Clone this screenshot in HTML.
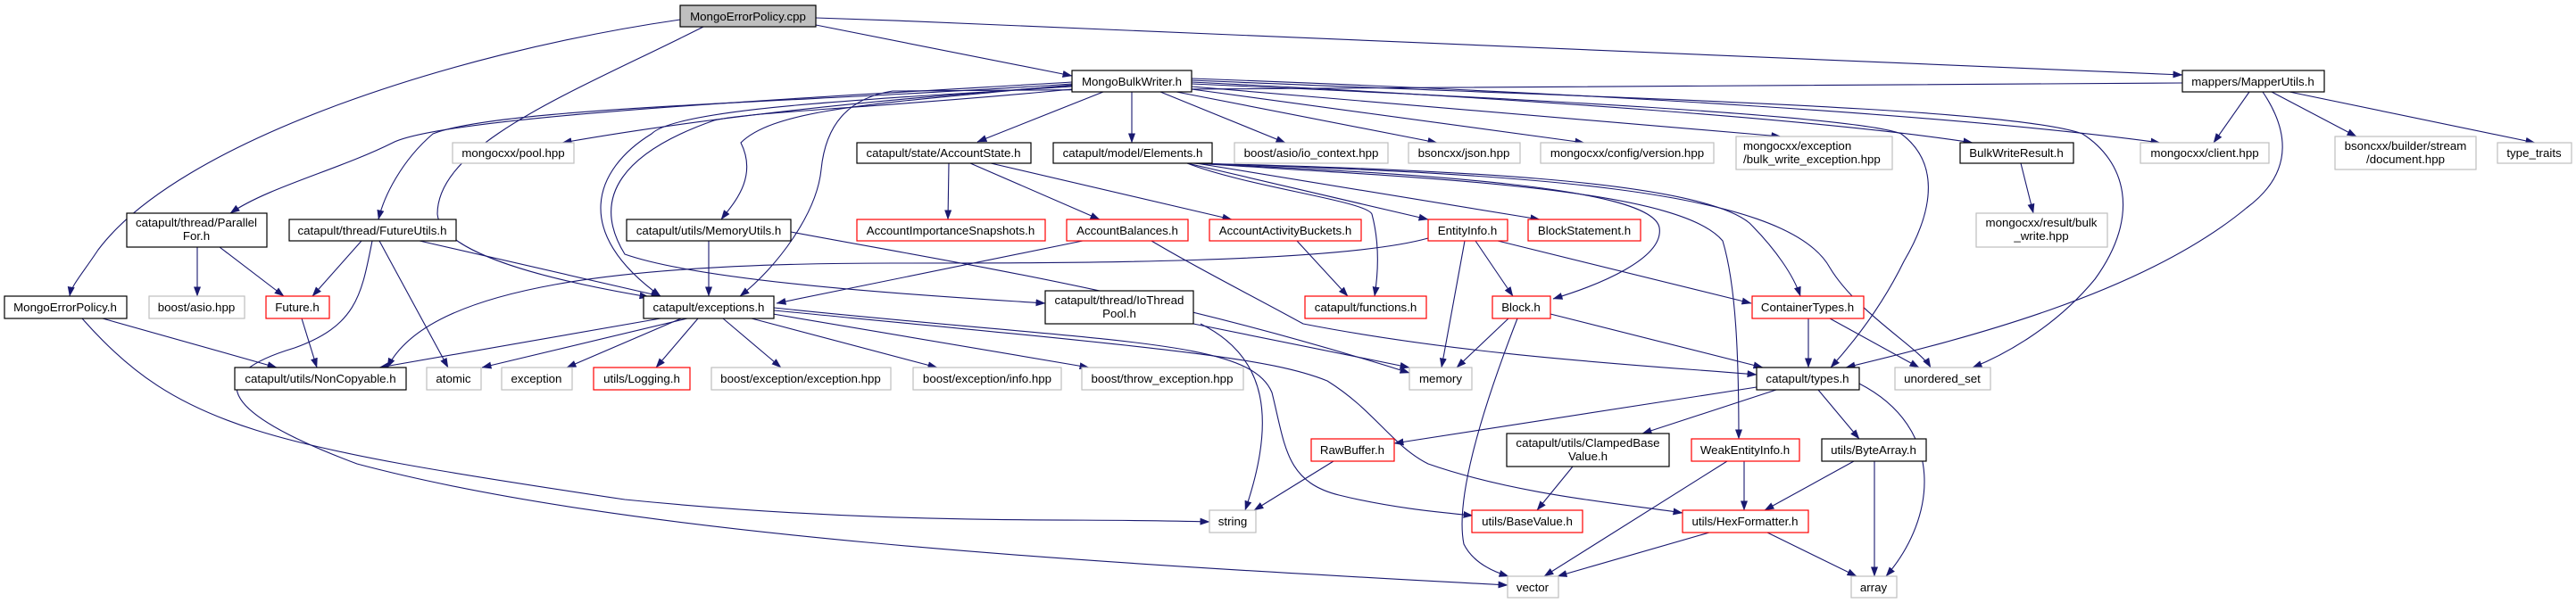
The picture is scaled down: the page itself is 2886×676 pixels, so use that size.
<!DOCTYPE html>
<html><head><meta charset="utf-8"><style>
html,body{margin:0;padding:0;background:#fff;}
svg{display:block;}
text{font-family:"Liberation Sans",Helvetica,Arial,sans-serif;font-size:13.3px;fill:#000;}
.n{fill:#fff;stroke:#000;stroke-width:1.2;}
.g{fill:#fff;stroke:#bfbfbf;stroke-width:1.2;}
.r{fill:#fff;stroke:#ff0000;stroke-width:1.2;}
.e{fill:none;stroke:#191970;stroke-width:1.1;marker-end:url(#a);}
</style></head><body>
<svg width="2886" height="676" viewBox="0 0 2886 676" xmlns="http://www.w3.org/2000/svg">
<defs><marker id="a" markerUnits="userSpaceOnUse" markerWidth="11" markerHeight="8" refX="10.5" refY="4" orient="auto"><path d="M0,0 L11,4 L0,8 z" fill="#191970"/></marker></defs>

<g>
<path class="e" d="M914,28 L1201,85"/>
<path class="e" d="M914,20 C1500,40 2100,65 2445,84"/>
<path class="e" d="M762,22 C500,60 200,160 110,280 C90,310 80,320 78,332"/>
<path class="e" d="M788,30 C650,100 490,160 490,240 C495,290 650,320 727,333"/>
<path class="e" d="M1201,96 C1000,110 800,130 630,160"/>
<path class="e" d="M1201,92 C900,110 500,130 440,160 C380,190 300,210 258,239"/>
<path class="e" d="M1201,94 C900,115 560,120 485,150 C450,180 430,220 424,246"/>
<path class="e" d="M1201,97 C1000,110 760,120 730,150 C665,190 640,260 740,332"/>
<path class="e" d="M2445,93 C1800,96 1200,98 1000,102 C950,110 925,140 920,190 C915,240 870,300 829,332"/>
<path class="e" d="M1201,95 C1000,115 870,120 830,160 C850,200 820,230 808,246"/>
<path class="e" d="M1201,100 C1000,120 840,125 800,135 C700,170 660,220 700,285 C800,320 1100,335 1171,340"/>
<path class="e" d="M1236,103 L1095,159"/>
<path class="e" d="M1268,103 L1268,160"/>
<path class="e" d="M1300,103 L1440,160"/>
<path class="e" d="M1318,103 L1610,160"/>
<path class="e" d="M1335,100 L1775,160"/>
<path class="e" d="M1335,97 L1995,153"/>
<path class="e" d="M1335,92 C1700,110 2050,135 2210,160"/>
<path class="e" d="M1335,88 C1800,105 2200,130 2420,160"/>
<path class="e" d="M1335,94 C1700,110 2080,130 2130,150 C2170,180 2170,230 2133,293 C2110,340 2080,380 2051,412"/>
<path class="e" d="M1335,90 C1800,110 2250,120 2333,150 C2380,180 2400,240 2347,313 C2300,370 2240,400 2210,412"/>
<path class="e" d="M2520,103 L2480,160"/>
<path class="e" d="M2545,103 L2640,153"/>
<path class="e" d="M2565,103 L2840,160"/>
<path class="e" d="M2535,103 C2560,140 2575,190 2517,233 C2400,330 2200,380 2068,412"/>
<path class="e" d="M2264,183 L2278,239"/>
<path class="e" d="M1063,183 L1062,246"/>
<path class="e" d="M1087,183 L1232,246"/>
<path class="e" d="M1110,183 L1380,246"/>
<path class="e" d="M1330,183 L1600,246"/>
<path class="e" d="M1340,183 L1725,246"/>
<path class="e" d="M1330,183 C1400,210 1530,225 1537,240 C1545,270 1545,300 1540,332"/>
<path class="e" d="M1335,183 C1600,195 1850,210 1859,255 C1865,290 1790,320 1740,335"/>
<path class="e" d="M1340,183 C1600,190 1900,200 1960,250 C1990,280 2010,310 2017,332"/>
<path class="e" d="M1338,183 C1600,200 1880,210 1930,270 C1945,320 1948,400 1948,492"/>
<path class="e" d="M1340,183 C1700,195 2000,210 2050,300 C2080,350 2150,390 2163,412"/>
<path class="e" d="M1213,270 L870,340"/>
<path class="e" d="M1290,270 C1340,300 1400,330 1460,363 C1650,400 1850,410 1968,420"/>
<path class="e" d="M1600,267 C1500,295 1200,295 1000,295 C700,295 480,320 434,412"/>
<path class="e" d="M1453,270 L1510,332"/>
<path class="e" d="M1641,270 L1615,412"/>
<path class="e" d="M1653,270 L1695,332"/>
<path class="e" d="M1678,270 L1962,340"/>
<path class="e" d="M1690,357 L1632,412"/>
<path class="e" d="M1737,352 L1975,412"/>
<path class="e" d="M1700,357 C1660,460 1630,560 1640,610 C1650,630 1670,640 1690,646"/>
<path class="e" d="M2026,357 L2026,412"/>
<path class="e" d="M2050,357 L2150,412"/>
<path class="e" d="M1968,434 L1562,497"/>
<path class="e" d="M1990,437 L1840,486"/>
<path class="e" d="M2037,437 L2083,492"/>
<path class="e" d="M2083,430 C2180,480 2170,580 2113,646"/>
<path class="e" d="M1954,517 L1954,572"/>
<path class="e" d="M1935,517 L1730,646"/>
<path class="e" d="M2077,517 L1977,572"/>
<path class="e" d="M2100,517 L2100,646"/>
<path class="e" d="M1762,523 L1722,572"/>
<path class="e" d="M1494,517 L1405,572"/>
<path class="e" d="M1915,597 L1745,646"/>
<path class="e" d="M1980,597 L2080,646"/>
<path class="e" d="M115,357 L310,412"/>
<path class="e" d="M92,357 C200,480 300,500 700,560 C1000,590 1200,580 1355,585"/>
<path class="e" d="M405,270 L350,332"/>
<path class="e" d="M470,270 L740,332"/>
<path class="e" d="M425,270 L502,412"/>
<path class="e" d="M417,270 C405,330 400,365 330,390 C230,420 240,460 400,520 C700,600 1200,630 1689,656"/>
<path class="e" d="M221,277 L221,332"/>
<path class="e" d="M246,277 L318,332"/>
<path class="e" d="M338,357 L355,412"/>
<path class="e" d="M794,270 L794,332"/>
<path class="e" d="M886,260 C1100,300 1300,330 1579,418"/>
<path class="e" d="M1337,363 L1579,412"/>
<path class="e" d="M1345,363 C1420,400 1430,470 1395,572"/>
<path class="e" d="M740,357 L425,412"/>
<path class="e" d="M770,357 L540,412"/>
<path class="e" d="M763,357 L635,412"/>
<path class="e" d="M782,357 L735,412"/>
<path class="e" d="M810,357 L875,412"/>
<path class="e" d="M842,357 L1050,412"/>
<path class="e" d="M866,352 L1220,412"/>
<path class="e" d="M867,348 C1300,390 1420,400 1487,427 C1540,460 1560,500 1600,520 C1700,555 1820,565 1885,575"/>
<path class="e" d="M867,345 C1250,385 1400,380 1425,440 C1440,500 1440,540 1500,555 C1560,570 1620,575 1650,578"/>
</g>

<g>
<rect x="762" y="6" width="152" height="24" fill="#bfbfbf" stroke="#000" stroke-width="1.2"/><text x="838" y="23" text-anchor="middle">MongoErrorPolicy.cpp</text>
<rect class="n" x="1201" y="79" width="134" height="24"/><text x="1268" y="96" text-anchor="middle">MongoBulkWriter.h</text>
<rect class="n" x="2445" y="79" width="159" height="24"/><text x="2524" y="96" text-anchor="middle">mappers/MapperUtils.h</text>

<rect class="g" x="507" y="160" width="136" height="23"/><text x="575" y="176" text-anchor="middle">mongocxx/pool.hpp</text>
<rect class="n" x="960" y="160" width="195" height="23"/><text x="1057" y="176" text-anchor="middle">catapult/state/AccountState.h</text>
<rect class="n" x="1180" y="160" width="178" height="23"/><text x="1269" y="176" text-anchor="middle">catapult/model/Elements.h</text>
<rect class="g" x="1383" y="160" width="172" height="23"/><text x="1469" y="176" text-anchor="middle">boost/asio/io_context.hpp</text>
<rect class="g" x="1578" y="160" width="125" height="23"/><text x="1640" y="176" text-anchor="middle">bsoncxx/json.hpp</text>
<rect class="g" x="1726" y="160" width="194" height="23"/><text x="1823" y="176" text-anchor="middle">mongocxx/config/version.hpp</text>
<rect class="g" x="1945" y="153" width="175" height="37"/><text x="1953" y="168">mongocxx/exception</text><text x="1953" y="183">/bulk_write_exception.hpp</text>
<rect class="n" x="2196" y="160" width="127" height="23"/><text x="2259" y="176" text-anchor="middle">BulkWriteResult.h</text>
<rect class="g" x="2398" y="160" width="144" height="23"/><text x="2470" y="176" text-anchor="middle">mongocxx/client.hpp</text>
<rect class="g" x="2616" y="153" width="158" height="37"/><text x="2695" y="168" text-anchor="middle">bsoncxx/builder/stream</text><text x="2695" y="183" text-anchor="middle">/document.hpp</text>
<rect class="g" x="2798" y="160" width="83" height="23"/><text x="2839" y="176" text-anchor="middle">type_traits</text>

<rect class="n" x="142" y="239" width="157" height="38"/><text x="220" y="254" text-anchor="middle">catapult/thread/Parallel</text><text x="220" y="269" text-anchor="middle">For.h</text>
<rect class="n" x="324" y="246" width="187" height="24"/><text x="417" y="263" text-anchor="middle">catapult/thread/FutureUtils.h</text>
<rect class="n" x="702" y="246" width="184" height="24"/><text x="794" y="263" text-anchor="middle">catapult/utils/MemoryUtils.h</text>
<rect class="r" x="960" y="246" width="211" height="24"/><text x="1065" y="263" text-anchor="middle">AccountImportanceSnapshots.h</text>
<rect class="r" x="1195" y="246" width="136" height="24"/><text x="1263" y="263" text-anchor="middle">AccountBalances.h</text>
<rect class="r" x="1355" y="246" width="170" height="24"/><text x="1440" y="263" text-anchor="middle">AccountActivityBuckets.h</text>
<rect class="r" x="1600" y="246" width="89" height="24"/><text x="1644" y="263" text-anchor="middle">EntityInfo.h</text>
<rect class="r" x="1712" y="246" width="126" height="24"/><text x="1775" y="263" text-anchor="middle">BlockStatement.h</text>
<rect class="g" x="2214" y="239" width="147" height="38"/><text x="2287" y="254" text-anchor="middle">mongocxx/result/bulk</text><text x="2287" y="269" text-anchor="middle">_write.hpp</text>

<rect class="n" x="5" y="332" width="137" height="25"/><text x="73" y="349" text-anchor="middle">MongoErrorPolicy.h</text>
<rect class="g" x="167" y="332" width="107" height="25"/><text x="220" y="349" text-anchor="middle">boost/asio.hpp</text>
<rect class="r" x="298" y="332" width="71" height="25"/><text x="333" y="349" text-anchor="middle">Future.h</text>
<rect class="n" x="721" y="332" width="146" height="25"/><text x="794" y="349" text-anchor="middle">catapult/exceptions.h</text>
<rect class="n" x="1171" y="326" width="166" height="37"/><text x="1254" y="341" text-anchor="middle">catapult/thread/IoThread</text><text x="1254" y="356" text-anchor="middle">Pool.h</text>
<rect class="r" x="1462" y="332" width="136" height="25"/><text x="1530" y="349" text-anchor="middle">catapult/functions.h</text>
<rect class="r" x="1672" y="332" width="65" height="25"/><text x="1704" y="349" text-anchor="middle">Block.h</text>
<rect class="r" x="1963" y="332" width="125" height="25"/><text x="2025" y="349" text-anchor="middle">ContainerTypes.h</text>

<rect class="n" x="263" y="412" width="192" height="25"/><text x="359" y="429" text-anchor="middle">catapult/utils/NonCopyable.h</text>
<rect class="g" x="478" y="412" width="61" height="25"/><text x="508" y="429" text-anchor="middle">atomic</text>
<rect class="g" x="562" y="412" width="79" height="25"/><text x="601" y="429" text-anchor="middle">exception</text>
<rect class="r" x="665" y="412" width="108" height="25"/><text x="719" y="429" text-anchor="middle">utils/Logging.h</text>
<rect class="g" x="797" y="412" width="201" height="25"/><text x="897" y="429" text-anchor="middle">boost/exception/exception.hpp</text>
<rect class="g" x="1023" y="412" width="166" height="25"/><text x="1106" y="429" text-anchor="middle">boost/exception/info.hpp</text>
<rect class="g" x="1212" y="412" width="181" height="25"/><text x="1302" y="429" text-anchor="middle">boost/throw_exception.hpp</text>
<rect class="g" x="1579" y="412" width="70" height="25"/><text x="1614" y="429" text-anchor="middle">memory</text>
<rect class="n" x="1968" y="412" width="115" height="25"/><text x="2025" y="429" text-anchor="middle">catapult/types.h</text>
<rect class="g" x="2123" y="412" width="107" height="25"/><text x="2176" y="429" text-anchor="middle">unordered_set</text>

<rect class="r" x="1469" y="492" width="93" height="25"/><text x="1515" y="509" text-anchor="middle">RawBuffer.h</text>
<rect class="n" x="1688" y="486" width="182" height="37"/><text x="1779" y="501" text-anchor="middle">catapult/utils/ClampedBase</text><text x="1779" y="516" text-anchor="middle">Value.h</text>
<rect class="r" x="1895" y="492" width="121" height="25"/><text x="1955" y="509" text-anchor="middle">WeakEntityInfo.h</text>
<rect class="n" x="2041" y="492" width="117" height="25"/><text x="2099" y="509" text-anchor="middle">utils/ByteArray.h</text>

<rect class="g" x="1355" y="572" width="52" height="25"/><text x="1381" y="589" text-anchor="middle">string</text>
<rect class="r" x="1649" y="572" width="124" height="25"/><text x="1711" y="589" text-anchor="middle">utils/BaseValue.h</text>
<rect class="r" x="1885" y="572" width="141" height="25"/><text x="1955" y="589" text-anchor="middle">utils/HexFormatter.h</text>

<rect class="g" x="1689" y="646" width="57" height="24"/><text x="1717" y="663" text-anchor="middle">vector</text>
<rect class="g" x="2074" y="646" width="51" height="24"/><text x="2099" y="663" text-anchor="middle">array</text>
</g>
</svg>
</body></html>
